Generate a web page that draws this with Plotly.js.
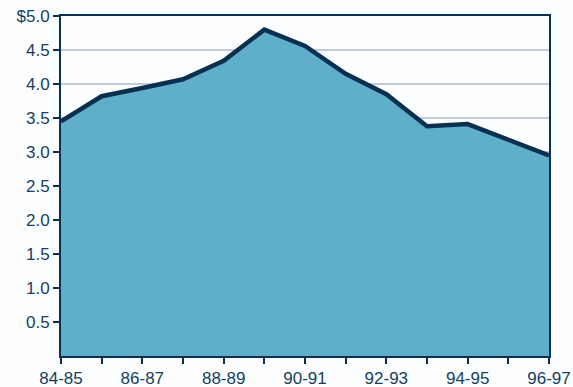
<!DOCTYPE html>
<html>
<head>
<meta charset="utf-8">
<script src="https://cdn.plot.ly/plotly-3.0.1.min.js"></script>
<style>html,body{margin:0;padding:0;background:#fbfdfe;}#chart{width:573px;height:387px;}</style>
</head>
<body>
<div id="chart"></div>
<script>
var categories = ["84-85","85-86","86-87","87-88","88-89","89-90","90-91","91-92","92-93","93-94","94-95","95-96","96-97"];
var values = [3.45, 3.82, 3.94, 4.07, 4.34, 4.80, 4.56, 4.15, 3.85, 3.38, 3.41, 3.18, 2.95];
var yTickVals = [0.5, 1.0, 1.5, 2.0, 2.5, 3.0, 3.5, 4.0, 4.5, 5.0];
var yTickText = ["0.5","1.0","1.5","2.0","2.5","3.0","3.5","4.0","4.5","$5.0"];
var xTickText = categories.map(function(c, i){ return i % 2 === 0 ? c : ""; });

var navy = "#0b2f4f";
var textCol = "#173f5f";

Plotly.newPlot("chart", [{
  x: categories,
  y: values,
  type: "scatter",
  mode: "lines",
  fill: "tozeroy",
  fillcolor: "#5fafcb",
  line: {color: navy, width: 4.5},
  hoverinfo: "skip"
}], {
  width: 573, height: 387,
  margin: {l: 61, r: 24, t: 16, b: 31, pad: 0},
  paper_bgcolor: "#fbfdfe",
  plot_bgcolor: "#fbfdfe",
  showlegend: false,
  font: {family: "Liberation Sans", size: 17, color: textCol},
  xaxis: {
    type: "category",
    range: [0, 12],
    tickmode: "array",
    tickvals: categories,
    ticktext: xTickText,
    ticks: "outside",
    ticklen: 6,
    tickwidth: 2,
    tickcolor: navy,
    showline: true,
    linecolor: navy,
    linewidth: 2,
    mirror: true,
    showgrid: false,
    zeroline: false,
    fixedrange: true
  },
  yaxis: {
    range: [0, 5],
    tickmode: "array",
    tickvals: yTickVals,
    ticktext: yTickText,
    ticks: "outside",
    ticklen: 6,
    tickwidth: 2,
    tickcolor: navy,
    showline: true,
    linecolor: navy,
    linewidth: 2,
    mirror: true,
    showgrid: true,
    gridcolor: "#c3cbdb",
    gridwidth: 2,
    zeroline: false,
    fixedrange: true
  }
}, {displayModeBar: false, staticPlot: true});
</script>
</body>
</html>
